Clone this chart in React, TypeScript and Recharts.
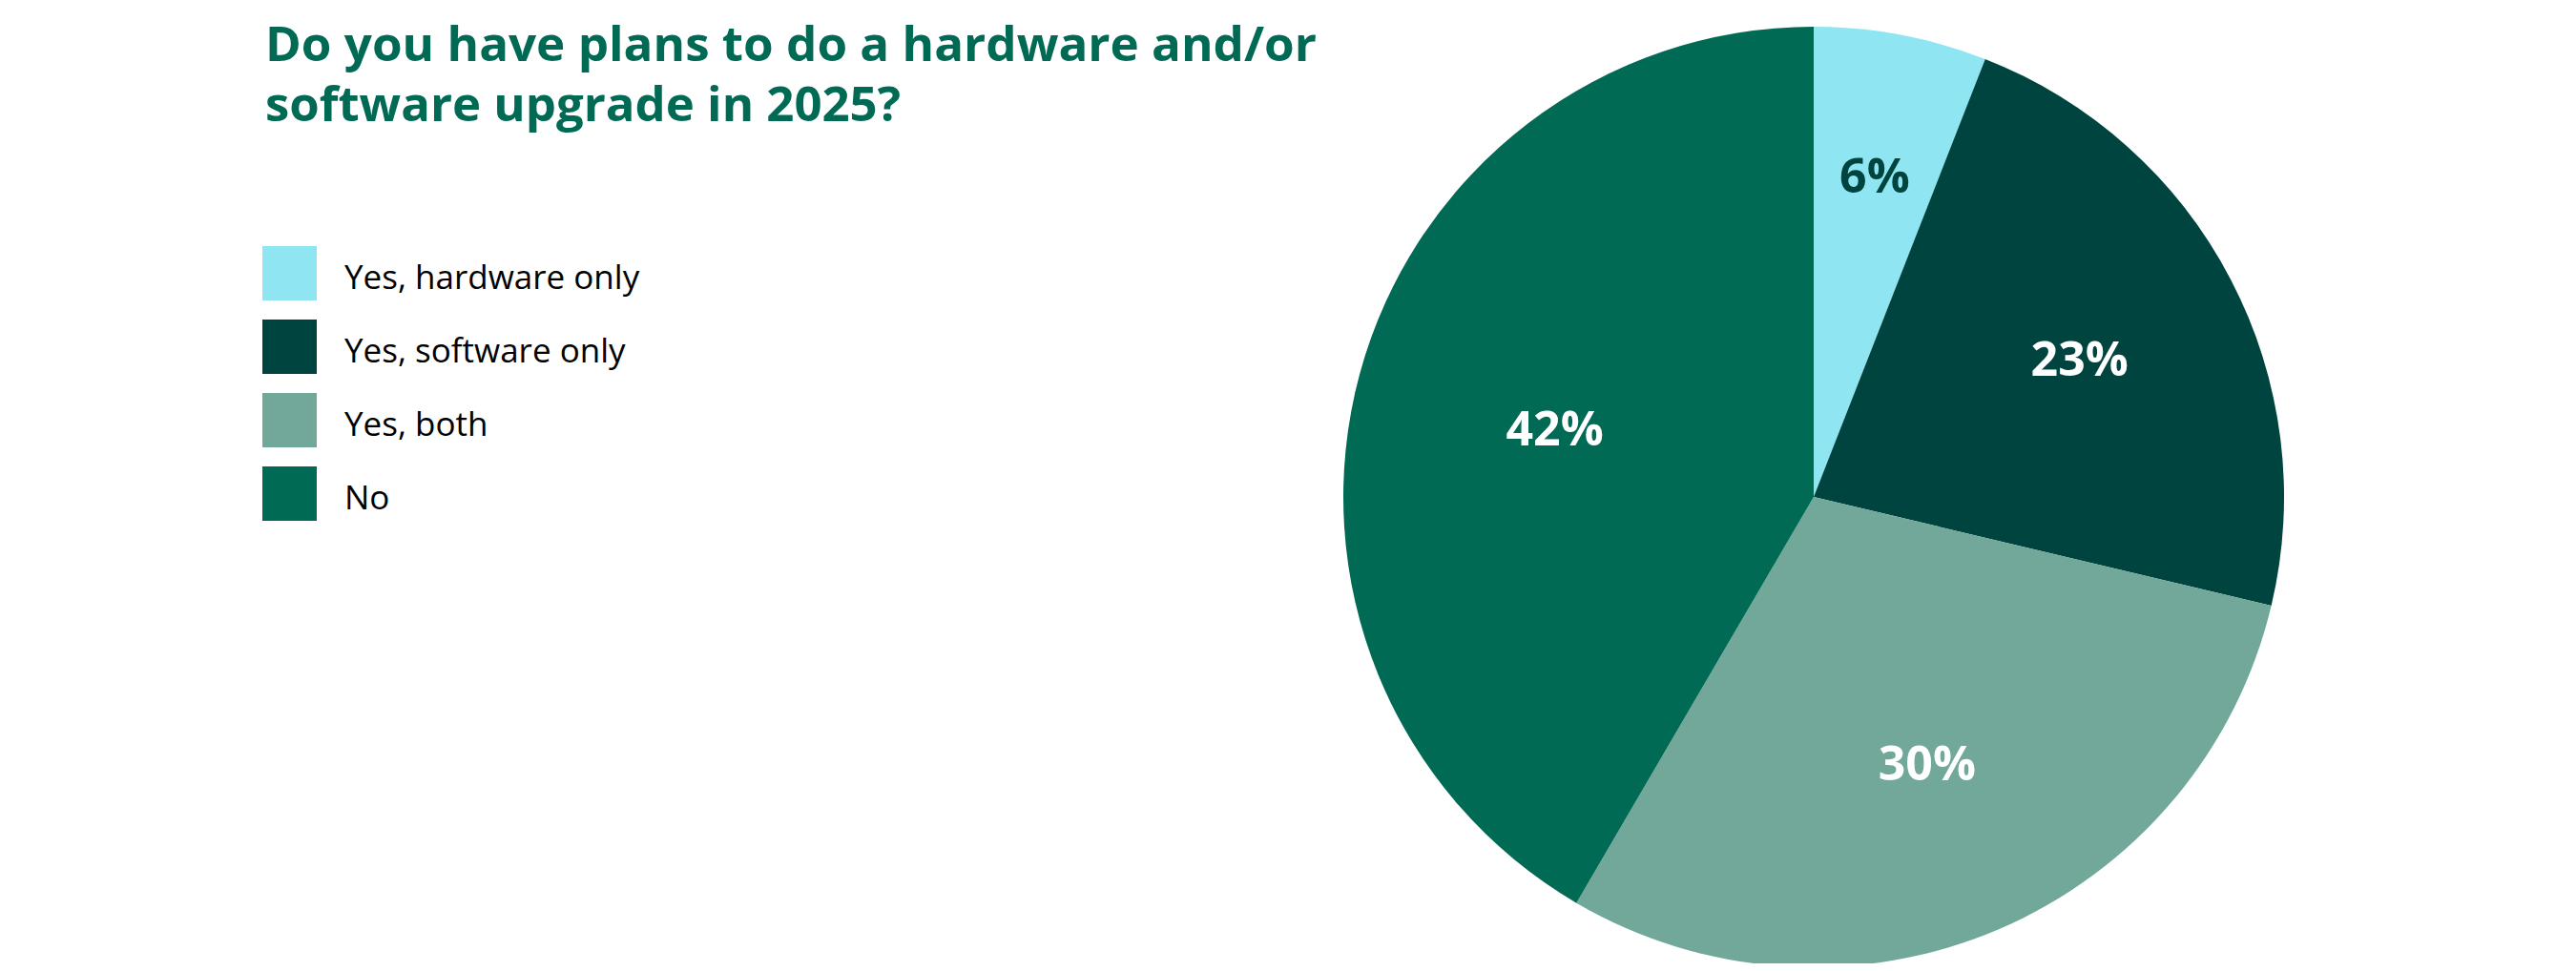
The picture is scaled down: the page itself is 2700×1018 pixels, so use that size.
import React from "react";
import { PieChart, Pie, Cell, Legend } from "recharts";

const answers = ["Yes, hardware only", "Yes, software only", "Yes, both", "No"];
const shares = [6, 23, 30, 42];

const titleLines = [
  "Do you have plans to do a hardware and/or",
  "software upgrade in 2025?",
];

const SLICE_COLORS = ["#8FE5F1", "#00443F", "#71A89A", "#006A54"];
const TITLE_GREEN = "#006A54";
const DARK_INK = "#00443F";
const FONT = "'Open Sans', 'DejaVu Sans', sans-serif";

const chartData = answers.map((name, i) => ({ name, value: shares[i] }));

const RADIAN = Math.PI / 180;

// narrow slices get their label pushed further out, wide ones pulled in
const renderLabel = (props: any) => {
  const { cx, cy, midAngle, outerRadius, percent, value, index } = props;
  const r = outerRadius * (0.72 - 0.36 * percent);
  const x = cx + r * Math.cos(-midAngle * RADIAN);
  const y = cy + r * Math.sin(-midAngle * RADIAN);
  return (
    <text
      x={x}
      y={y}
      textAnchor="middle"
      dominantBaseline="central"
      fill={index === 0 ? DARK_INK : "#FFFFFF"}
      fontFamily={FONT}
      fontWeight={700}
      fontSize={50}
    >
      {`${value}%`}
    </text>
  );
};

// recharts sorts legend items by name; put them back in survey order
const LegendList = (props: any) => {
  const payload = [...(props.payload || [])].sort(
    (a: any, b: any) => answers.indexOf(a.value) - answers.indexOf(b.value),
  );
  return (
    <div style={{ fontFamily: FONT }}>
      {payload.map((entry: any) => {
        const i = answers.indexOf(entry.value);
        return (
          <div
            key={entry.value}
            style={{ display: "flex", alignItems: "center", height: 57, marginBottom: 20 }}
          >
            <div
              style={{
                width: 57,
                height: 57,
                background: SLICE_COLORS[i],
                marginRight: 29,
              }}
            />
            <span style={{ fontSize: 35, color: "#000", marginTop: 6 }}>{entry.value}</span>
          </div>
        );
      })}
    </div>
  );
};

export default function App() {
  return (
    <div style={{ position: "relative", width: 2684, height: 1002, background: "#fff" }}>
      <svg
        width={1500}
        height={150}
        style={{ position: "absolute", left: 0, top: 0 }}
      >
        <text
          x={270}
          y={56}
          fill={TITLE_GREEN}
          fontFamily={FONT}
          fontWeight={700}
          fontSize={51}
          textLength={1102}
          lengthAdjust="spacingAndGlyphs"
        >
          {titleLines[0]}
        </text>
        <text
          x={270}
          y={119}
          fill={TITLE_GREEN}
          fontFamily={FONT}
          fontWeight={700}
          fontSize={51}
          textLength={666}
          lengthAdjust="spacingAndGlyphs"
        >
          {titleLines[1]}
        </text>
      </svg>
      <PieChart width={2684} height={1002} margin={{ top: 0, right: 0, bottom: 0, left: 0 }}>
        <Pie
          data={chartData}
          dataKey="value"
          nameKey="name"
          cx={1893}
          cy={513}
          outerRadius={493}
          startAngle={90}
          endAngle={-270}
          stroke="none"
          label={renderLabel}
          labelLine={false}
          isAnimationActive={false}
        >
          {chartData.map((d, i) => (
            <Cell key={d.name} fill={SLICE_COLORS[i]} />
          ))}
        </Pie>
        <Legend
          layout="vertical"
          align="center"
          verticalAlign="middle"
          content={<LegendList />}
          wrapperStyle={{ left: 267, top: 250, width: 600 }}
        />
      </PieChart>
    </div>
  );
}
